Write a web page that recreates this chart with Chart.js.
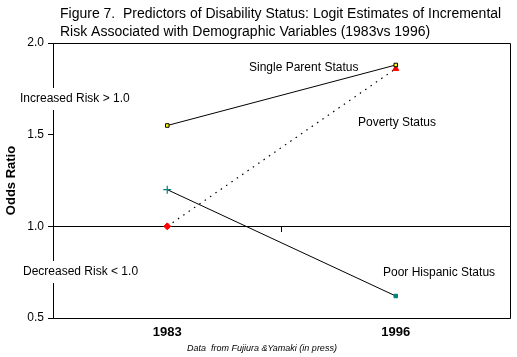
<!DOCTYPE html>
<html>
<head>
<meta charset="utf-8">
<script src="https://cdn.jsdelivr.net/npm/chart.js@4"></script>
<style>
html,body{margin:0;padding:0;background:#fff;}
#c{display:block;}
</style>
</head>
<body>
<canvas id="c" width="517" height="357"></canvas>
<script>
const categories = ['1983', '1996'];
const singleParent = [1.55, 1.88];
const poverty = [1.0, 1.86];
const poorHispanic = [1.2, 0.62];
const yTicks = [0.5, 1.0, 1.5, 2.0];
const titleLines = ['Figure 7.  Predictors of Disability Status: Logit Estimates of Incremental',
                    'Risk Associated with Demographic Variables (1983vs 1996)'];

const FONT = '"Liberation Sans", Arial, sans-serif';

const annot = {
  id: 'annot',
  afterDraw(chart) {
    const ctx = chart.ctx;
    const a = chart.chartArea;
    ctx.save();
    ctx.strokeStyle = '#000';
    ctx.lineWidth = 1;
    ctx.beginPath();
    ctx.moveTo(a.left, a.top + 0.5); ctx.lineTo(a.right + 0.5, a.top + 0.5);
    ctx.lineTo(a.right + 0.5, a.bottom + 0.5); ctx.lineTo(a.left, a.bottom + 0.5);
    ctx.stroke();

    ctx.fillStyle = '#000';
    ctx.textBaseline = 'middle';
    ctx.textAlign = 'left';
    ctx.font = '14px ' + FONT;
    ctx.fillText(titleLines[0], 60, 14);
    ctx.fillText(titleLines[1], 60, 32);

    ctx.font = '12px ' + FONT;
    const boxed = [['Increased Risk > 1.0', 20, 99], ['Decreased Risk < 1.0', 23, 272]];
    boxed.forEach(([t, x, y]) => {
      const w = ctx.measureText(t).width;
      ctx.fillStyle = '#fff';
      ctx.fillRect(x - 2, y - 11, w + 4, 22);
      ctx.fillStyle = '#000';
      ctx.fillText(t, x, y);
    });
    ctx.fillText('Single Parent Status', 249, 68);
    ctx.fillText('Poverty Status', 358, 123);
    ctx.fillText('Poor Hispanic Status', 383, 273);

    ctx.font = 'italic 9px ' + FONT;
    ctx.fillText('Data  from Fujiura &Yamaki (in press)', 187, 348);
    ctx.restore();
  }
};

new Chart(document.getElementById('c'), {
  type: 'line',
  data: {
    labels: categories,
    datasets: [
      {
        label: 'Single Parent Status', data: singleParent,
        borderColor: '#000', borderWidth: 1,
        pointStyle: 'rect', pointRadius: 2.5,
        pointBackgroundColor: '#ffff00', pointBorderColor: '#000', pointBorderWidth: 1
      },
      {
        label: 'Poverty Status', data: poverty,
        borderColor: '#000', borderWidth: 1.2, borderDash: [1.5, 5],
        pointStyle: ['rectRot', 'triangle'], pointRadius: 3.5,
        pointBackgroundColor: '#ff0000', pointBorderColor: '#ff0000', pointBorderWidth: 1
      },
      {
        label: 'Poor Hispanic Status', data: poorHispanic,
        borderColor: '#000', borderWidth: 1,
        pointStyle: ['cross', 'rect'], pointRadius: [4, 2.5],
        pointBackgroundColor: '#008080', pointBorderColor: '#008080', pointBorderWidth: [1.2, 1]
      }
    ]
  },
  options: {
    responsive: false,
    devicePixelRatio: 1,
    animation: false,
    layout: { padding: { top: 43, right: 7, left: 0, bottom: 0 } },
    plugins: { legend: { display: false }, title: { display: false }, tooltip: { enabled: false } },
    scales: {
      x: {
        type: 'category',
        position: { y: 1.0 },
        offset: true,
        ticks: { display: false },
        grid: { offset: true, drawOnChartArea: false, drawTicks: true, tickLength: 5, tickColor: '#000', color: '#000' },
        border: { display: true, color: '#000', width: 1 }
      },
      xb: {
        type: 'category',
        position: 'bottom',
        labels: categories,
        offset: true,
        ticks: { color: '#000', font: { family: FONT, size: 13, weight: 'bold' }, padding: 7 },
        grid: { display: false, drawTicks: false },
        border: { display: false },
        afterFit(s) { s.height = 39; }
      },
      y: {
        min: 0.5, max: 2.0,
        afterBuildTicks(s) { s.ticks = yTicks.map(v => ({ value: v })); },
        ticks: { color: '#000', font: { family: FONT, size: 12 }, padding: 4,
                 callback: v => Number(v).toFixed(1) },
        grid: { drawOnChartArea: false, drawTicks: true, tickLength: 5, tickColor: '#000', color: '#000' },
        border: { display: true, color: '#000', width: 1 },
        title: { display: true, text: 'Odds Ratio', color: '#000', font: { family: FONT, size: 13, weight: 'bold' }, padding: { top: 4, bottom: 0 } },
        afterFit(s) { s.width = 53; }
      }
    }
  },
  plugins: [annot]
});
</script>
</body>
</html>
